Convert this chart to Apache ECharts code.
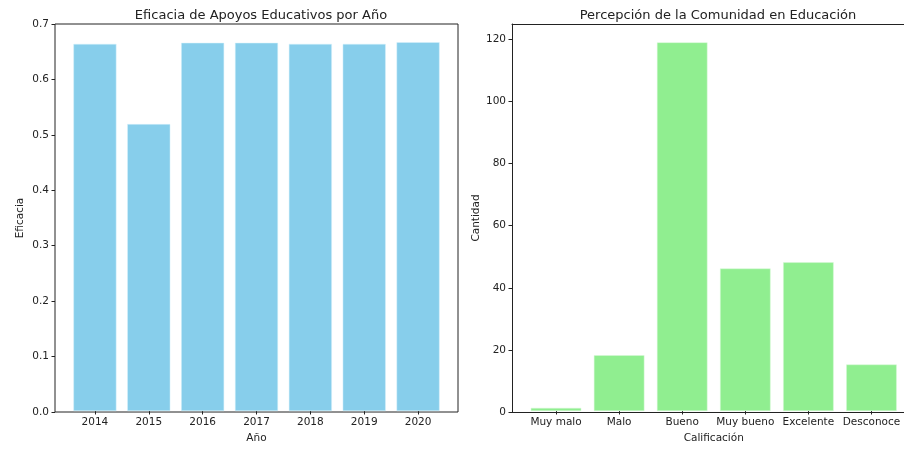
<!DOCTYPE html>
<html>
<head>
<meta charset="utf-8">
<script src="https://cdn.jsdelivr.net/npm/echarts@6/dist/echarts.min.js"></script>
<style>
    html, body { margin: 0; padding: 0; background: #fff; }
    #chart { width: 904px; height: 449px; }
</style>
</head>
<body>
<div id="chart"></div>
<script>
// left panel
var years = ['2014', '2015', '2016', '2017', '2018', '2019', '2020'];
var eficacia = [0.664, 0.519, 0.666, 0.666, 0.664, 0.664, 0.667];
var eficaciaTicks = [0, 0.1, 0.2, 0.3, 0.4, 0.5, 0.6, 0.7];

// right panel
var calificaciones = ['Muy malo', 'Malo', 'Bueno', 'Muy bueno', 'Excelente', 'Desconoce'];
var cantidades = [1, 18, 119, 46, 48, 15];
var cantidadTicks = [0, 20, 40, 60, 80, 100, 120];

var font = 'DejaVu Sans';
var spine = { show: true, lineStyle: { color: '#222', width: 1 } };
var chart = echarts.init(document.getElementById('chart'));

function hiddenAxis(idx, type, extra) {
    var ax = {
        type: type, gridIndex: idx, show: false
    };
    return Object.assign(ax, extra || {});
}

// only the line of the axis, used as a frame edge
function spineAxis(idx, pos) {
    return {
        type: 'value', gridIndex: idx, position: pos,
        axisLine: spine, axisTick: { show: false }, axisLabel: { show: false },
        splitLine: { show: false }
    };
}

var tickLabel = { color: '#222', fontFamily: font, fontSize: 10.5 };

var option = {
    animation: false,
    backgroundColor: '#fff',
    title: [
        {
            text: 'Eficacia de Apoyos Educativos por Año',
            left: 256, top: 4, textAlign: 'center',
            textStyle: { fontFamily: font, fontSize: 13, fontWeight: 'normal', color: '#222' }
        },
        {
            text: 'Percepción de la Comunidad en Educación',
            left: 713, top: 4, textAlign: 'center',
            textStyle: { fontFamily: font, fontSize: 13, fontWeight: 'normal', color: '#222' }
        }
    ],
    grid: [
        // frames
        { left: 55, width: 403, top: 24, bottom: 37, show: true, borderColor: '#222', borderWidth: 1 },
        // bars area, matches matplotlib margins
        { left: 68, right: 459, top: 24, bottom: 37 },
        // right frame runs past the canvas edge, so no right spine
        { left: 512, right: 0, top: 24, bottom: 37 },
        { left: 524.5, right: 1, top: 24, bottom: 37 }
    ],
    xAxis: [
        hiddenAxis(0, 'value'),
        {
            type: 'category', gridIndex: 1, data: years,
            name: 'Año', nameLocation: 'middle', nameGap: 22,
            nameTextStyle: { fontFamily: font, fontSize: 10.5, color: '#222' },
            axisLine: { show: false },
            axisTick: { show: true, alignWithLabel: true, length: 3.5, lineStyle: { color: '#222' } },
            axisLabel: Object.assign({ margin: 6 }, tickLabel)
        },
        spineAxis(2, 'bottom'),
        {
            type: 'category', gridIndex: 3, data: calificaciones,
            name: 'Calificación', nameLocation: 'middle', nameGap: 22,
            nameTextStyle: { fontFamily: font, fontSize: 10.5, color: '#222' },
            axisLine: { show: false },
            axisTick: { show: true, alignWithLabel: true, length: 3.5, lineStyle: { color: '#222' } },
            axisLabel: Object.assign({ margin: 6, interval: 0 }, tickLabel)
        },
        spineAxis(2, 'top')
    ],
    yAxis: [
        {
            type: 'value', gridIndex: 0, min: 0, max: 0.7, interval: 0.1,
            name: 'Eficacia', nameLocation: 'middle', nameGap: 29,
            nameTextStyle: { fontFamily: font, fontSize: 10.5, color: '#222' },
            splitLine: { show: false },
            axisLine: { show: false },
            axisTick: { show: true, length: 3.5, lineStyle: { color: '#222' } },
            axisLabel: Object.assign({
                margin: 6,
                formatter: function (v) { return eficaciaTicks.indexOf(+v.toFixed(1)) >= 0 ? v.toFixed(1) : ''; }
            }, tickLabel)
        },
        hiddenAxis(1, 'value', { min: 0, max: 0.7 }),
        {
            type: 'value', gridIndex: 2, min: 0, max: 124.95, interval: 20,
            name: 'Cantidad', nameLocation: 'middle', nameGap: 29,
            nameTextStyle: { fontFamily: font, fontSize: 10.5, color: '#222' },
            splitLine: { show: false },
            axisLine: spine,
            axisTick: { show: true, length: 3.5, lineStyle: { color: '#222' } },
            axisLabel: Object.assign({
                margin: 6, showMaxLabel: false,
                formatter: function (v) { return cantidadTicks.indexOf(v) >= 0 ? String(v) : ''; }
            }, tickLabel)
        },
        hiddenAxis(3, 'value', { min: 0, max: 124.95 })
    ],
    series: [
        {
            type: 'bar', xAxisIndex: 1, yAxisIndex: 1, data: eficacia,
            barWidth: 43,
            itemStyle: { color: '#87CEEB', borderColor: '#d6f0fa', borderWidth: 0.5 }
        },
        {
            type: 'bar', xAxisIndex: 3, yAxisIndex: 3, data: cantidades,
            barWidth: 50.5,
            itemStyle: { color: '#90EE90', borderColor: '#d8f8d8', borderWidth: 0.5 }
        }
    ]
};

chart.setOption(option);
</script>
</body>
</html>
